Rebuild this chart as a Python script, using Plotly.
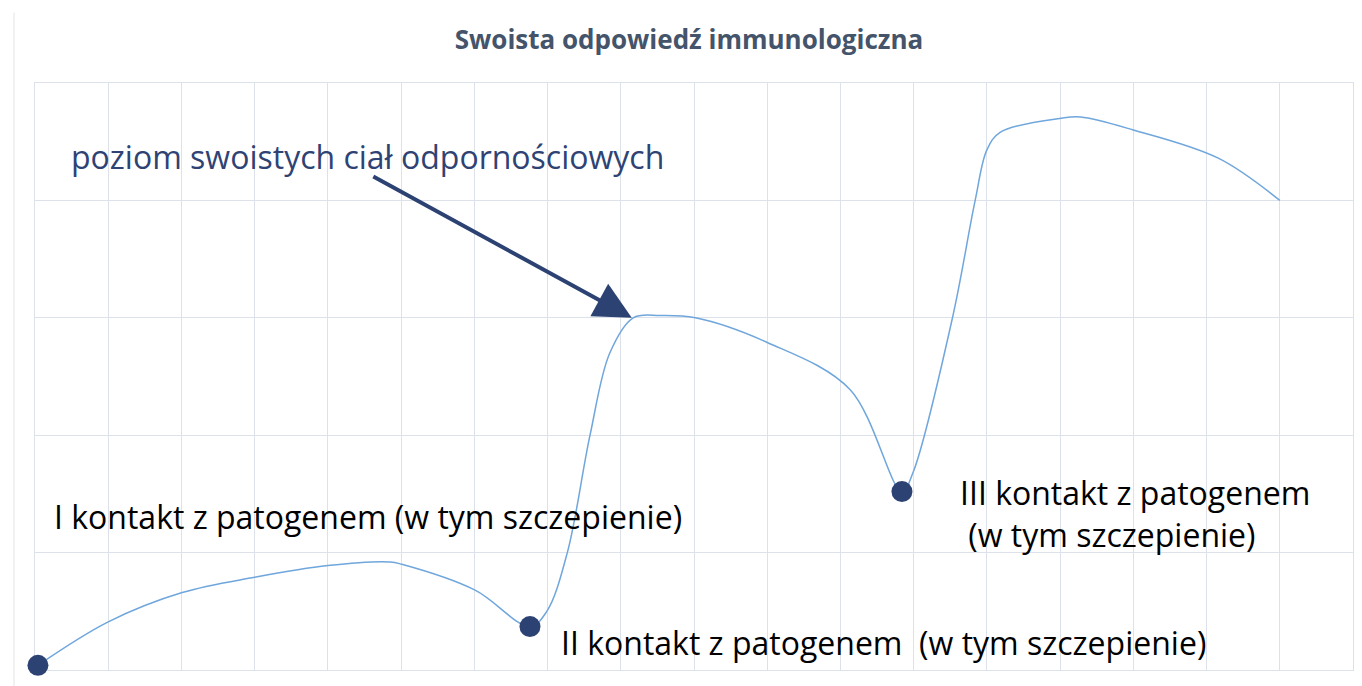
import plotly.graph_objects as go

# ---- data (grid units: x = time columns 0..18, y = antibody level 0..5) ----
time_pts = [0.04, 1.0, 2.01, 3.0, 4.0, 4.85, 5.01, 6.01, 6.76, 6.99, 7.27, 7.58, 7.85,
            8.17, 8.54, 9.02, 10.0, 11.13, 11.84, 11.99, 12.53, 12.84, 13.0,
            13.18, 14.02, 14.28, 15.0, 16.16, 17.0]
level_pts = [0.04, 0.41, 0.66, 0.79, 0.89, 0.92, 0.90, 0.68, 0.37, 0.50, 1.0, 2.0, 2.70,
             3.0, 3.02, 3.0, 2.79, 2.39, 1.52, 1.68, 3.0, 4.0, 4.43,
             4.58, 4.70, 4.71, 4.60, 4.36, 4.0]

contact_time = [0.04, 6.76, 11.84]
contact_level = [0.04, 0.37, 1.52]

title_text = "Swoista odpowiedź immunologiczna"
label_curve = "poziom swoistych ciał odpornościowych"
label_c1 = "I kontakt z patogenem (w tym szczepienie)"
label_c2 = "II kontakt z patogenem  (w tym szczepienie)"
label_c3a = "III kontakt z patogenem"
label_c3b = " (w tym szczepienie)"

NAVY = "#2C4272"
GRID = "#DDE2EA"
TXT_FONT = "Open Sans"

fig = go.Figure()
fig.add_trace(go.Scatter(
    x=time_pts, y=level_pts, mode="lines",
    line=dict(color="#6FA6DC", width=1.5, shape="spline", smoothing=1.0),
    hoverinfo="skip", cliponaxis=False, showlegend=False))
fig.add_trace(go.Scatter(
    x=contact_time, y=contact_level, mode="markers",
    marker=dict(color=NAVY, size=21, line=dict(width=0)),
    cliponaxis=False, showlegend=False))

fig.update_layout(
    width=1362, height=686,
    margin=dict(l=35, r=9, t=83, b=16),
    paper_bgcolor="white", plot_bgcolor="white",
    title=dict(text="<b>" + title_text + "</b>", x=689 / 1362, xanchor="center",
               y=1 - 40 / 686, yanchor="middle",
               font=dict(family="Open Sans", size=26, color="#44546A")),
    xaxis=dict(range=[0, 18], dtick=1, tick0=0, showticklabels=False, ticks="",
               showgrid=True, gridcolor=GRID, gridwidth=1, zeroline=False,
               showline=True, linecolor=GRID, linewidth=1, mirror=True,
               layer="below traces"),
    yaxis=dict(range=[0, 5], dtick=1, tick0=0, showticklabels=False, ticks="",
               showgrid=True, gridcolor=GRID, gridwidth=1, zeroline=False,
               showline=True, linecolor=GRID, linewidth=1, mirror=True,
               layer="below traces"),
)

def add_text(txt, x, y, color="black", size=32, xanchor="left"):
    fig.add_annotation(text=txt, x=x, y=y, xref="x", yref="y", showarrow=False,
                       xanchor=xanchor, yanchor="middle",
                       font=dict(family=TXT_FONT, size=size, color=color))

add_text(label_c1, 0.23, 1.305)
add_text(label_c2, 7.16, 0.238)
add_text(label_c3a, 12.6, 1.51)
add_text(label_c3b, 12.6, 1.15)
add_text(label_curve, 0.46, 4.375, color="#2E4374")

# arrow pointing at the curve
fig.add_annotation(x=8.15, y=3.0, ax=4.6, ay=4.21, xref="x", yref="y",
                   axref="x", ayref="y", text="", showarrow=True,
                   arrowhead=2, arrowsize=1.85, arrowwidth=4, arrowcolor=NAVY)

# faint cropped axis at the far left edge
fig.add_shape(type="line", xref="paper", yref="paper",
              x0=-21 / 1318, x1=-21 / 1318, y0=-0.03, y1=1.12,
              line=dict(color="#E3E3E3", width=1))

fig.write_html("out.html", config={"displayModeBar": False},
               post_script="document.body.style.margin='0';")
